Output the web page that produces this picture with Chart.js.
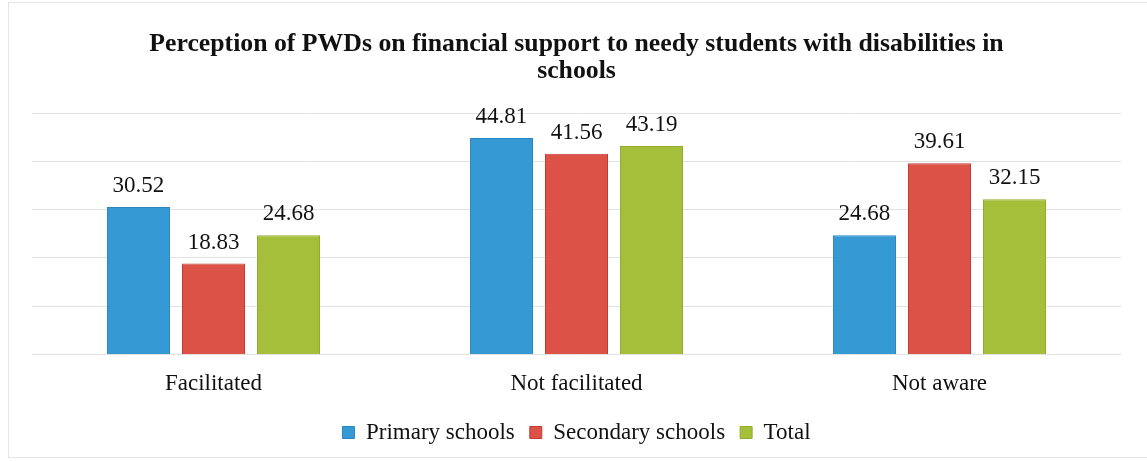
<!DOCTYPE html>
<html>
<head>
<meta charset="utf-8">
<script src="https://cdn.jsdelivr.net/npm/chart.js@4"></script>
<style>
  html, body { margin: 0; padding: 0; background: #fff; }
  #wrap { position: relative; width: 1147px; height: 461px; }
  #frame { position: absolute; left: 8px; top: 2px; width: 1150px; height: 456px; border: 1px solid #e4e4e4; box-sizing: border-box; }
</style>
</head>
<body>
<div id="wrap">
  <div id="frame"></div>
  <canvas id="chart" width="1147" height="461"></canvas>
</div>
<script>
const categories = ["Facilitated", "Not facilitated", "Not aware"];
const primarySchools = [30.52, 44.81, 24.68];
const secondarySchools = [18.83, 41.56, 39.61];
const totalValues = [24.68, 43.19, 32.15];

const serif = "'Liberation Serif', 'Times New Roman', serif";

// values above bars
const valueLabels = {
  id: "valueLabels",
  afterDatasetsDraw(chart) {
    const ctx = chart.ctx;
    ctx.save();
    ctx.font = "23px " + serif;
    ctx.fillStyle = "#111";
    ctx.textAlign = "center";
    ctx.textBaseline = "alphabetic";
    chart.data.datasets.forEach((ds, i) => {
      chart.getDatasetMeta(i).data.forEach((bar, j) => {
        ctx.fillText(ds.data[j].toFixed(2), bar.x, bar.y - 15);
      });
    });
    ctx.restore();
  },
};

const chart = document.querySelector("#chart").getContext("2d");

new Chart(chart, {
  type: "bar",
  data: {
    labels: categories,
    datasets: [
      {
        label: "Primary schools",
        data: primarySchools,
        backgroundColor: "#3599d4",
        borderColor: "#2a86bf",
        borderWidth: 1,
      },
      {
        label: "Secondary schools",
        data: secondarySchools,
        backgroundColor: "#dc5247",
        borderColor: "#c23c33",
        borderWidth: 1,
      },
      {
        label: "Total",
        data: totalValues,
        backgroundColor: "#a6bf3b",
        borderColor: "#93ab2e",
        borderWidth: 1,
      },
    ],
  },
  options: {
    responsive: false,
    animation: false,
    layout: { padding: { left: 32, right: 26, top: 0, bottom: 7 } },
    categoryPercentage: 0.62,
    barPercentage: 0.84,
    scales: {
      x: {
        grid: { display: false },
        border: { display: false },
        ticks: { font: { family: serif, size: 23 }, color: "#111", padding: 8 },
      },
      y: {
        min: 0,
        max: 50,
        ticks: { display: false, stepSize: 10 },
        border: { display: false },
        grid: { color: "#e2e2e2", drawTicks: false },
      },
    },
    plugins: {
      title: {
        display: true,
        text: ["Perception of PWDs on financial support to needy students with disabilities in", "schools"],
        font: { family: serif, size: 25.75, weight: "bold", lineHeight: 1.05 },
        color: "#111",
        padding: { top: 31, bottom: 28 },
      },
      legend: {
        position: "bottom",
        labels: {
          font: { family: serif, size: 23 },
          color: "#111",
          boxWidth: 12,
          boxHeight: 12,
          padding: 15,
        },
      },
      tooltip: { enabled: false },
    },
  },
  plugins: [valueLabels],
});
</script>
</body>
</html>
